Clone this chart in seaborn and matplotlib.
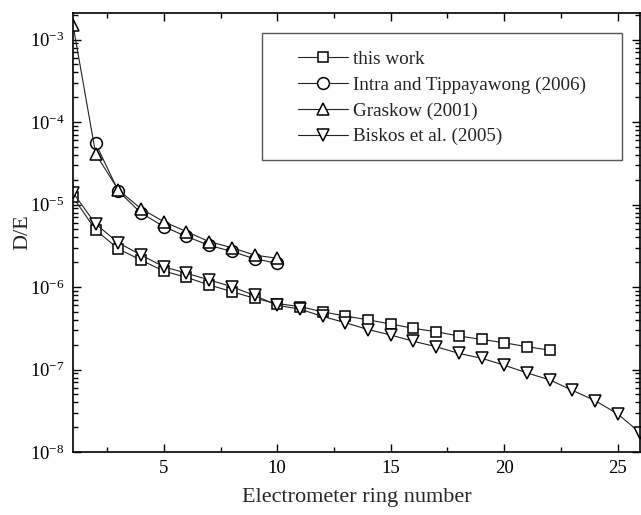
import matplotlib
matplotlib.use("Agg")
import matplotlib.pyplot as plt
import seaborn as sns
import pandas as pd
from matplotlib.ticker import MultipleLocator, LogLocator, NullFormatter, LogFormatterSciNotation
from matplotlib.patches import Rectangle

# D/E ratio per electrometer ring for each study
rings_this_work = list(range(1, 23))
de_this_work = [1.23e-5, 4.9e-6, 2.9e-6, 2.12e-6, 1.56e-6, 1.31e-6, 1.06e-6, 8.8e-7,
                7.3e-7, 6.3e-7, 5.8e-7, 5.0e-7, 4.45e-7, 4.0e-7, 3.56e-7, 3.16e-7,
                2.87e-7, 2.55e-7, 2.32e-7, 2.11e-7, 1.89e-7, 1.72e-7]

rings_intra = list(range(2, 11))
de_intra = [5.5e-5, 1.45e-5, 7.9e-6, 5.4e-6, 4.1e-6, 3.2e-6, 2.7e-6, 2.2e-6, 1.94e-6]

rings_graskow = list(range(1, 11))
de_graskow = [1.5e-3, 4.1e-5, 1.5e-5, 8.9e-6, 6.2e-6, 4.7e-6, 3.55e-6, 3.0e-6, 2.44e-6, 2.23e-6]

rings_biskos = list(range(1, 27))
de_biskos = [1.39e-5, 5.8e-6, 3.44e-6, 2.44e-6, 1.76e-6, 1.47e-6, 1.22e-6, 1.01e-6,
             7.9e-7, 6.0e-7, 5.4e-7, 4.4e-7, 3.7e-7, 3.05e-7, 2.62e-7, 2.2e-7,
             1.89e-7, 1.57e-7, 1.37e-7, 1.13e-7, 9.1e-8, 7.5e-8, 5.6e-8, 4.2e-8,
             2.9e-8, 1.7e-8]

series_labels = ["this work", "Intra and Tippayawong (2006)", "Graskow (2001)", "Biskos et al. (2005)"]
series_markers = ["s", "o", "^", "v"]
series_sizes = [7, 8.5, 9, 9]

sns.set_theme(style="ticks")
plt.rcParams["font.family"] = ["Liberation Serif", "DejaVu Serif"]
plt.rcParams["mathtext.default"] = "regular"

fig = plt.figure(figsize=(6.41, 5.15), dpi=100)
ax = fig.add_axes([0.1139, 0.1223, 0.8851, 0.8525])

series = [
    (rings_this_work, de_this_work),
    (rings_intra, de_intra),
    (rings_graskow, de_graskow),
    (rings_biskos, de_biskos),
]
for (x, y), label, mk, ms in zip(series, series_labels, series_markers, series_sizes):
    df = pd.DataFrame({"ring": x, "DE": y})
    sns.lineplot(data=df, x="ring", y="DE", ax=ax, estimator=None, legend=False,
                 color="#222222", linewidth=0.8, marker=mk, markersize=ms,
                 markerfacecolor="white", markeredgecolor="black",
                 markeredgewidth=1.1, label=label)

ax.set_yscale("log")
ax.set_xlim(1, 26)
ax.set_ylim(1e-8, 2.1e-3)

ax.xaxis.set_major_locator(MultipleLocator(5))
ax.xaxis.set_minor_locator(MultipleLocator(2.5))
ax.yaxis.set_major_locator(LogLocator(base=10, numticks=10))
ax.yaxis.set_minor_locator(LogLocator(base=10, subs=range(2, 10), numticks=10))
ax.yaxis.set_major_formatter(LogFormatterSciNotation())
ax.yaxis.set_minor_formatter(NullFormatter())

ax.tick_params(which="both", direction="in", top=True, right=True, colors="black",
               labelsize=13.5, width=1.0)
ax.tick_params(which="major", length=6, pad=6)
ax.tick_params(which="minor", length=3.5)
for s in ax.spines.values():
    s.set_color("black")
    s.set_linewidth(1.2)

ax.set_xlabel("Electrometer ring number", fontsize=16, labelpad=8)
ax.set_ylabel("D/E", fontsize=16, labelpad=-2)

leg = ax.legend(loc="upper left", bbox_to_anchor=(0.396, 0.914), frameon=False,
                borderpad=0, borderaxespad=0, handlelength=2.6, handletextpad=0.3,
                labelspacing=0.43, fontsize=13.8)
for t in leg.get_texts():
    t.set_color("#222222")
ax.add_patch(Rectangle((0.333, 0.665), 0.634, 0.289, transform=ax.transAxes,
                       fill=False, edgecolor="#555555", linewidth=1.0, zorder=5))

fig.savefig("out.png", dpi=100)
